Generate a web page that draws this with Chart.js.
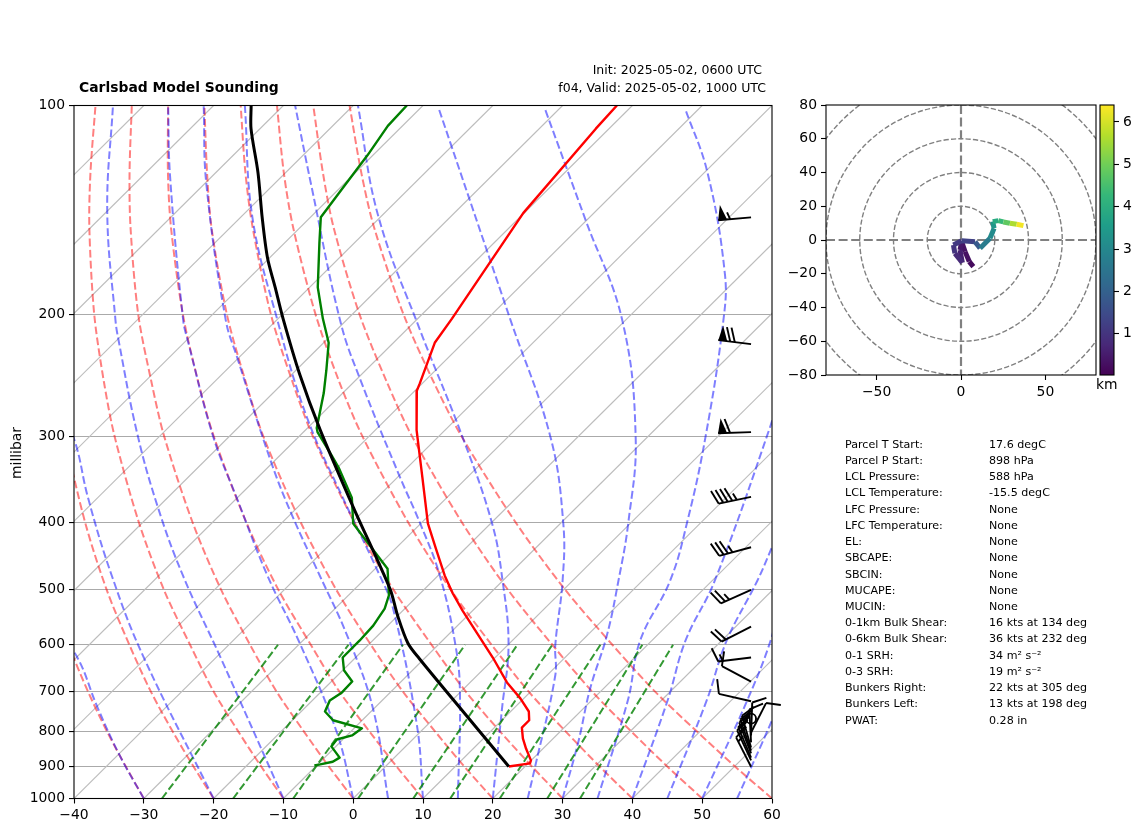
<!DOCTYPE html>
<html>
<head>
<meta charset="utf-8">
<title>Carlsbad Model Sounding</title>
<script src="https://cdn.jsdelivr.net/npm/chart.js@4"></script>
<style>
    html, body { margin: 0; padding: 0; background: #fff; }
    body { width: 1142px; height: 832px; position: relative; overflow: hidden; font-family: "DejaVu Sans", sans-serif; color: #000; }
    canvas { position: absolute; }
    .txt { position: absolute; white-space: nowrap; line-height: 1; }
</style>
</head>
<body>
<canvas id="skewt" width="1142" height="832" style="left:0;top:0"></canvas>
<canvas id="hodo" width="330" height="330" style="left:780px;top:75px"></canvas>
<canvas id="cbar" width="52" height="330" style="left:1090px;top:75px"></canvas>
<div class="txt" style="left:79px;top:81px;font-size:13.9px;font-weight:bold">Carlsbad Model Sounding</div>
<div class="txt" style="right:380px;top:64px;font-size:12.5px">Init: 2025-05-02, 0600 UTC</div>
<div class="txt" style="right:376px;top:82px;font-size:12.5px">f04, Valid: 2025-05-02, 1000 UTC</div>
<div class="txt" style="left:17px;top:453px;font-size:13.9px;transform:translate(-50%,-50%) rotate(-90deg)">millibar</div>
<div class="txt" style="left:1096px;top:378px;font-size:13.9px">km</div>
<div id="stats"></div>

<script>
// sounding: pressure in hPa, temperature in degC
const tempPres = [100, 108, 143, 203, 220, 252, 258, 294, 344, 401, 434, 477, 506, 536, 626, 680, 717, 749, 771, 790, 819, 847, 881, 890, 899];
const tempVals = [-61.5, -61.2, -59.5, -54.6, -53.6, -49.9, -49.3, -43.7, -36.1, -28.7, -24.2, -18.8, -15.1, -11.2, -0.2, 5.4, 9.6, 12.7, 14, 14, 15.7, 17.6, 20, 20.3, 17.7];

const dewPres = [100, 107, 118, 131, 145, 158, 183, 203, 220, 241, 260, 292, 296, 320, 333, 368, 401, 425, 466, 509, 532, 563, 592, 626, 653, 678, 703, 722, 749, 771, 792, 811, 822, 841, 873, 885, 893, 896];
const dewVals = [-91.6, -91.4, -90.1, -89, -87.9, -84.4, -78.3, -73.1, -68.8, -65.2, -62.3, -58.3, -57.6, -52.2, -49.5, -43.3, -39.4, -35, -28, -24, -22.7, -21.9, -21.7, -21.7, -19.7, -16.9, -16.8, -17.4, -16.5, -14.1, -8.8, -9.2, -10.8, -10.6, -7.8, -8.2, -9.6, -10.3];

const parcelPres = [100, 108, 125, 145, 166, 183, 203, 244, 294, 380, 498, 545, 597, 628, 754, 899];
const parcelVals = [-113.9, -110.6, -103.3, -96.3, -89.7, -84.4, -78.8, -68.5, -57.5, -41.7, -24.8, -19.8, -14.4, -10.6, 3.8, 17.7];

// background guide curves
const dryPres = [1000, 900, 800, 700, 600, 500, 400, 300, 250, 200, 150, 125, 100];
const dryAdiabats = [
    [-30, -37.1, -44.9, -53.4, -62.8, -73.4, -85.6, -100.3, -109, -119.1, -131.2, -138.3, -146.6],
    [-20, -27.4, -35.5, -44.4, -54.1, -65.2, -77.9, -93.2, -102.2, -112.8, -125.4, -132.8, -141.4],
    [-10, -17.7, -26.1, -35.4, -45.4, -57, -70.2, -86.1, -95.5, -106.5, -119.6, -127.3, -136.2],
    [0, -8, -16.7, -26.4, -36.8, -48.8, -62.5, -79, -88.7, -100.2, -113.7, -121.7, -131],
    [10, 1.7, -7.3, -17.4, -28.1, -40.6, -54.8, -71.9, -82, -93.8, -107.9, -116.2, -125.8],
    [20, 11.4, 2.1, -8.3, -19.5, -32.3, -47, -64.8, -75.2, -87.5, -102.1, -110.6, -120.6],
    [30, 21.1, 11.4, 0.7, -10.8, -24.1, -39.3, -57.7, -68.5, -81.2, -96.2, -105.1, -115.4],
    [40, 30.8, 20.8, 9.7, -2.2, -15.9, -31.6, -50.6, -61.8, -74.8, -90.4, -99.6, -110.2],
    [50, 40.5, 30.2, 18.8, 6.5, -7.7, -23.9, -43.5, -55, -68.5, -84.6, -94, -105],
    [60, 50.2, 39.6, 27.8, 15.1, 0.5, -16.2, -36.4, -48.3, -62.2, -78.8, -88.5, -99.8]
];

const moistPres = [
    [1000, 867, 741, 616, 550],
    [1000, 622, 477, 368, 306, 250],
    [1000, 622, 477, 380, 297, 218, 204, 142, 100],
    [1000, 803, 596, 477, 368, 301, 220, 204, 127, 100],
    [1000, 741, 582, 477, 393, 329, 231, 204, 130, 100],
    [1000, 785, 532, 477, 368, 282, 204, 145, 100],
    [1000, 703, 601, 477, 401, 344, 249, 206, 130, 100],
    [1000, 741, 601, 485, 401, 301, 211, 144, 100],
    [1000, 905, 664, 601, 485, 401, 301, 204, 101],
    [1000, 830, 694, 582, 485, 401, 301, 204, 147, 101],
    [1000, 722, 592, 485, 401, 301, 204, 175, 125, 101],
    [1000, 722, 592, 485, 292, 260],
    [1000, 722, 592, 485, 434, 400],
    [1000, 722, 588, 540],
    [1000, 771, 720]
];
const moistVals = [
    [-30, -39.6, -49.5, -60.8, -70],
    [-20, -50.6, -66.5, -81.1, -90.9, -103],
    [-10, -39.6, -56.3, -69.7, -83.3, -99.3, -102.6, -119.4, -133.7],
    [0, -11.8, -30, -44.2, -59.8, -71.8, -88.9, -92.9, -115.2, -125.8],
    [5, -10.1, -24.2, -36.7, -48.9, -59.6, -79.8, -86.8, -109, -120.7],
    [10, -1.3, -21.5, -28.1, -44.6, -61.2, -79.4, -97.7, -114.8],
    [15, 0.1, -7.3, -19.5, -29.8, -39.3, -58.9, -69.9, -94, -107.6],
    [20, 8.4, 0.3, -9.8, -19.5, -36.1, -57.5, -80, -98.6],
    [25, 21.7, 11.3, 7, -1.2, -9.3, -23.5, -46, -86.6],
    [30, 24.2, 18.2, 13, 6.8, 0, -11.3, -30, -49.3, -71.4],
    [35, 25.3, 18.5, 14.2, 8.4, -1.3, -15.5, -21.9, -38.9, -51.3],
    [40, 31, 25, 20.6, 6.6, 3],
    [45, 36.6, 30.9, 26.7, 24, 22],
    [50, 42.4, 37, 34],
    [55, 48.8, 47]
];

const mixingPres = [1000, 600];
const mixingLines = [
    [-27.4, -32.8],
    [-17.2, -22.7],
    [-8.6, -14.9],
    [0.7, -6],
    [8.6, 1.5],
    [13.9, 6.5],
    [21, 13.4],
    [27.8, 19.4],
    [32.5, 23.8]
];

const isothermTemps = [-130, -120, -110, -100, -90, -80, -70, -60, -50, -40, -30, -20, -10, 0, 10, 20, 30, 40, 50];

const pressureTicks = [100, 200, 300, 400, 500, 600, 700, 800, 900, 1000];

// wind barbs: pressure hPa, direction deg, speed kts
const barbPres = [145, 221, 296, 367, 434, 500, 565, 626, 678, 724, 767, 803, 811, 830, 844, 853, 861, 873, 881, 900];
const barbDir = [265, 277, 268, 258, 255, 246, 243, 263, 298, 283, 0, 27, 2, 357, 344, 341, 339, 337, 335, 333];
const barbSpeed = [55, 70, 60, 45, 35, 25, 20, 15, 10, 10, 0, 10, 10, 10, 15, 15, 15, 15, 15, 15];

// hodograph: u, v in kts and height in km
const hodoU = [7.3, 4.9, 2.4, 0.4, -0.6, 0.8, -3.6, -4.5, 0.4, 8.3, 11.3, 17.2, 19.6, 18.8, 22.1, 25.1, 29, 33, 37];
const hodoV = [-15.8, -12.8, -6.9, -1, -5.9, -13.4, -7.9, -3, -0.4, -1, -4.9, 1, 6.9, 10.9, 11.5, 10.7, 9.9, 9.3, 8.5];
const hodoHeight = [0.1, 0.2, 0.3, 0.35, 0.45, 0.6, 0.8, 1, 1.1, 1.3, 1.8, 2.7, 3.1, 3.4, 3.9, 4.3, 4.8, 5.6, 6.3];
const hodoRings = [20, 40, 60, 80, 100];
const hodoYTicks = [-80, -60, -40, -20, 0, 20, 40, 60, 80];
const hodoXTicks = [-50, 0, 50];
const heightTicks = [1, 2, 3, 4, 5, 6];
const heightMin = 0.03;
const heightMax = 6.4;

const viridis = ['#440154', '#482878', '#3e4989', '#31688e', '#26828e', '#1f9e89', '#35b779', '#6ece58', '#b5de2b', '#fde725'];

const statLabels = ['Parcel T Start:', 'Parcel P Start:', 'LCL Pressure:', 'LCL Temperature:', 'LFC Pressure:', 'LFC Temperature:', 'EL:', 'SBCAPE:', 'SBCIN:', 'MUCAPE:', 'MUCIN:', '0-1km Bulk Shear:', '0-6km Bulk Shear:', '0-1 SRH:', '0-3 SRH:', 'Bunkers Right:', 'Bunkers Left:', 'PWAT:'];
const statValues = ['17.6 degC', '898 hPa', '588 hPa', '-15.5 degC', 'None', 'None', 'None', 'None', 'None', 'None', 'None', '16 kts at 134 deg', '36 kts at 232 deg', '34 m² s⁻²', '19 m² s⁻²', '22 kts at 305 deg', '13 kts at 198 deg', '0.28 in'];

const FONT = '"DejaVu Sans", sans-serif';
const SKEW = 99.28;       // x axis degrees per decade of pressure, traces
const SKEW_GRID = 100;    // isotherms come out a touch steeper
const DASH = [7.7, 3.3];

Chart.defaults.font.family = FONT;
Chart.defaults.font.size = 13.9;
Chart.defaults.color = '#000';
Chart.defaults.animation = false;
Chart.defaults.responsive = false;
Chart.defaults.devicePixelRatio = 1;
Chart.defaults.plugins.legend.display = false;
Chart.defaults.plugins.tooltip.enabled = false;

function skewed(temps, pres) {
    return temps.map((t, i) => ({ x: t + SKEW * Math.log10(1000 / pres[i]), y: pres[i] }));
}

function lineSet(data, color, width, dash, tension) {
    return {
        data: data,
        showLine: true,
        pointRadius: 0,
        borderColor: color,
        borderWidth: width,
        borderDash: dash || [],
        borderJoinStyle: 'round',
        tension: tension || 0,
        fill: false,
        clip: 0
    };
}

function minusSign(value) {
    return String(value).replace('-', '\u2212');
}

function viridisAt(h) {
    const f = Math.min(1, Math.max(0, (h - heightMin) / (heightMax - heightMin))) * (viridis.length - 1);
    const i = Math.min(viridis.length - 2, Math.floor(f));
    const a = parseInt(viridis[i].slice(1), 16);
    const b = parseInt(viridis[i + 1].slice(1), 16);
    const k = f - i;
    const mix = s => Math.round(((a >> s) & 255) * (1 - k) + ((b >> s) & 255) * k);
    return 'rgb(' + mix(16) + ',' + mix(8) + ',' + mix(0) + ')';
}

const framePlugin = {
    id: 'frame',
    afterDatasetsDraw(chart) {
        const a = chart.chartArea;
        const ctx = chart.ctx;
        ctx.save();
        ctx.strokeStyle = '#000';
        ctx.lineWidth = 1.1;
        ctx.strokeRect(a.left, a.top, a.right - a.left, a.bottom - a.top);
        ctx.restore();
    }
};

function drawBarb(ctx, x, y, dir, speed) {
    const staff = 33;
    const rad = dir * Math.PI / 180;
    const sx = Math.sin(rad), sy = -Math.cos(rad);
    const px = -sy, py = sx;

    if (speed < 2.5) {
        ctx.beginPath();
        ctx.arc(x, y, 5, 0, Math.PI * 2);
        ctx.stroke();
        return;
    }

    const tx = x + sx * staff, ty = y + sy * staff;
    ctx.beginPath();
    ctx.moveTo(x, y);
    ctx.lineTo(tx, ty);
    ctx.stroke();

    let rest = speed;
    let pos = 0;
    while (rest >= 50) {
        const ax = tx - sx * pos, ay = ty - sy * pos;
        ctx.beginPath();
        ctx.moveTo(ax, ay);
        ctx.lineTo(ax - sx * 9, ay - sy * 9);
        ctx.lineTo(ax - sx * 3 + px * 15, ay - sy * 3 + py * 15);
        ctx.closePath();
        ctx.fill();
        pos += 12;
        rest -= 50;
    }
    while (rest >= 10) {
        const ax = tx - sx * pos, ay = ty - sy * pos;
        ctx.beginPath();
        ctx.moveTo(ax, ay);
        ctx.lineTo(ax + sx * 5 + px * 14, ay + sy * 5 + py * 14);
        ctx.stroke();
        pos += 4.6;
        rest -= 10;
    }
    if (rest >= 5) {
        const ax = tx - sx * pos, ay = ty - sy * pos;
        ctx.beginPath();
        ctx.moveTo(ax, ay);
        ctx.lineTo(ax + sx * 2.5 + px * 7, ay + sy * 2.5 + py * 7);
        ctx.stroke();
    }
}

const barbPlugin = {
    id: 'barbs',
    afterDatasetsDraw(chart) {
        const ctx = chart.ctx;
        const x = chart.scales.x.getPixelForValue(57);
        ctx.save();
        ctx.strokeStyle = '#000';
        ctx.fillStyle = '#000';
        ctx.lineWidth = 1.9;
        barbPres.forEach((p, i) => {
            drawBarb(ctx, x, chart.scales.y.getPixelForValue(p), barbDir[i], barbSpeed[i]);
        });
        ctx.restore();
    }
};

const ringPlugin = {
    id: 'rings',
    beforeDatasetsDraw(chart) {
        const ctx = chart.ctx;
        const a = chart.chartArea;
        const sx = chart.scales.x, sy = chart.scales.y;
        const cx = sx.getPixelForValue(0), cy = sy.getPixelForValue(0);
        ctx.save();
        ctx.beginPath();
        ctx.rect(a.left, a.top, a.right - a.left, a.bottom - a.top);
        ctx.clip();
        ctx.strokeStyle = '#808080';
        ctx.lineWidth = 1.4;
        ctx.setLineDash([5.2, 2.2]);
        hodoRings.forEach(r => {
            ctx.beginPath();
            ctx.arc(cx, cy, sx.getPixelForValue(r) - cx, 0, Math.PI * 2);
            ctx.stroke();
        });
        ctx.lineWidth = 2.2;
        ctx.setLineDash([9, 3.6]);
        ctx.beginPath();
        ctx.moveTo(a.left, cy);
        ctx.lineTo(a.right, cy);
        ctx.moveTo(cx, a.top);
        ctx.lineTo(cx, a.bottom);
        ctx.stroke();
        ctx.restore();
    }
};

// traces first, chart.js paints the first dataset last
const skewDatasets = [
    lineSet(skewed(parcelVals, parcelPres), '#000', 3, null, 0.3),
    lineSet(skewed(tempVals, tempPres), '#ff0000', 2.4),
    lineSet(skewed(dewVals, dewPres), '#008000', 2.4)
];
mixingLines.forEach(line => {
    skewDatasets.push(lineSet(skewed(line, mixingPres), 'rgba(0,128,0,0.8)', 2, DASH));
});
moistVals.forEach((line, i) => {
    skewDatasets.push(lineSet(skewed(line, moistPres[i]), 'rgba(0,0,255,0.5)', 2, DASH, 0.4));
});
dryAdiabats.forEach(line => {
    skewDatasets.push(lineSet(skewed(line, dryPres), 'rgba(255,0,0,0.5)', 2, DASH, 0.3));
});
isothermTemps.forEach(t => {
    skewDatasets.push(lineSet([{ x: t, y: 1000 }, { x: t + SKEW_GRID, y: 100 }], '#bdbdbd', 1.1));
});

new Chart(document.getElementById('skewt'), {
    type: 'scatter',
    data: { datasets: skewDatasets },
    plugins: [framePlugin, barbPlugin],
    options: {
        layout: { padding: { top: 105.5, right: 370, left: 0, bottom: 0 } },
        scales: {
            x: {
                type: 'linear',
                min: -40,
                max: 60,
                afterFit: s => { s.height = 33.5; },
                grid: { drawOnChartArea: false, tickLength: 5, tickColor: '#000', tickWidth: 1.1 },
                border: { display: false },
                ticks: { stepSize: 10, autoSkip: false, maxRotation: 0, padding: 4, callback: minusSign }
            },
            y: {
                type: 'logarithmic',
                reverse: true,
                min: 100,
                max: 1000,
                afterBuildTicks: s => { s.ticks = pressureTicks.map(v => ({ value: v })); },
                afterFit: s => { s.width = 74; },
                grid: { color: '#aaaaaa', lineWidth: 1.1, tickLength: 5, tickColor: '#000', tickWidth: 1.1 },
                border: { display: false },
                ticks: { autoSkip: false, padding: 4, callback: v => String(v) }
            }
        }
    }
});

new Chart(document.getElementById('hodo'), {
    type: 'scatter',
    data: {
        datasets: [Object.assign(
            lineSet(hodoU.map((u, i) => ({ x: u, y: hodoV[i] })), viridis[0], 5),
            { segment: { borderColor: c => viridisAt(hodoHeight[c.p1DataIndex]) } }
        )]
    },
    plugins: [ringPlugin, framePlugin],
    options: {
        layout: { padding: { top: 30, right: 14, left: 0, bottom: 0 } },
        scales: {
            x: {
                type: 'linear',
                min: -80,
                max: 80,
                afterBuildTicks: s => { s.ticks = hodoXTicks.map(v => ({ value: v })); },
                afterFit: s => { s.height = 30; },
                grid: { drawOnChartArea: false, tickLength: 5, tickColor: '#000', tickWidth: 1.1 },
                border: { display: false },
                ticks: { autoSkip: false, maxRotation: 0, padding: 4, callback: minusSign }
            },
            y: {
                type: 'linear',
                min: -80,
                max: 80,
                afterBuildTicks: s => { s.ticks = hodoYTicks.map(v => ({ value: v })); },
                afterFit: s => { s.width = 46; },
                grid: { drawOnChartArea: false, tickLength: 5, tickColor: '#000', tickWidth: 1.1 },
                border: { display: false },
                ticks: { autoSkip: false, padding: 4, callback: minusSign }
            }
        }
    }
});

new Chart(document.getElementById('cbar'), {
    type: 'bar',
    data: {
        labels: ['km'],
        datasets: [{
            data: [[heightMin, heightMax]],
            categoryPercentage: 1,
            barPercentage: 1,
            borderWidth: 0,
            backgroundColor: c => {
                const a = c.chart.chartArea;
                if (!a) {
                    return viridis[0];
                }
                const g = c.chart.ctx.createLinearGradient(0, a.bottom, 0, a.top);
                viridis.forEach((v, i) => g.addColorStop(i / (viridis.length - 1), v));
                return g;
            }
        }]
    },
    plugins: [framePlugin],
    options: {
        layout: { padding: { top: 30, right: 0, left: 10, bottom: 30 } },
        scales: {
            x: { display: false },
            y: {
                position: 'right',
                min: heightMin,
                max: heightMax,
                afterBuildTicks: s => { s.ticks = heightTicks.map(v => ({ value: v })); },
                afterFit: s => { s.width = 28; },
                grid: { drawOnChartArea: false, tickLength: 5, tickColor: '#000', tickWidth: 1.1 },
                border: { display: false },
                ticks: { autoSkip: false, padding: 4 }
            }
        }
    }
});

const stats = document.getElementById('stats');
statLabels.forEach((label, i) => {
    const top = 438.8 + i * 16.22;
    stats.insertAdjacentHTML('beforeend',
        '<div class="txt" style="left:845px;top:' + top + 'px;font-size:11.1px">' + label + '</div>' +
        '<div class="txt" style="left:989px;top:' + top + 'px;font-size:11.1px">' + statValues[i] + '</div>');
});
</script>
</body>
</html>
